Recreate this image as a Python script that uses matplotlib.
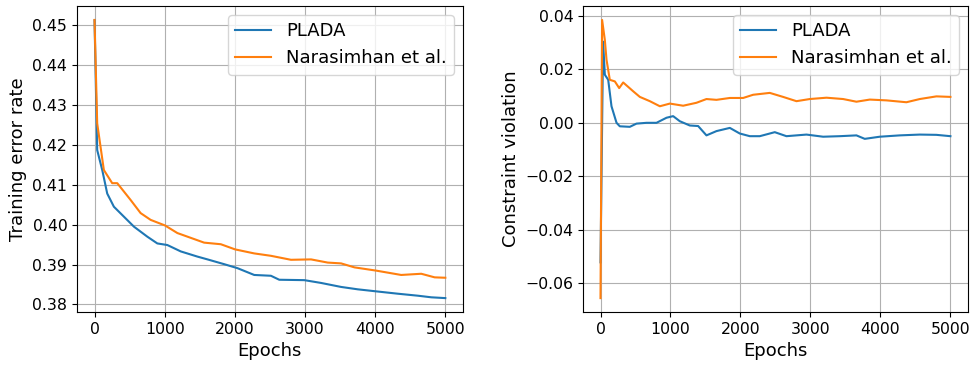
import matplotlib
matplotlib.use('Agg')
import matplotlib.pyplot as plt

# Training error rate (epoch, value)
err_epochs_plada = [0, 38, 110, 181, 276, 419, 562, 752, 895, 1038, 1229, 1467, 1610,
                    1848, 2038, 2276, 2514, 2633, 2990, 3229, 3514, 3752, 4010, 4324,
                    4610, 4800, 5000]
err_plada = [0.4512, 0.4187, 0.4137, 0.4078, 0.4045, 0.4020, 0.3995, 0.3970, 0.3953,
             0.3949, 0.3933, 0.3920, 0.3913, 0.3901, 0.3891, 0.3874, 0.3872, 0.3862,
             0.3861, 0.3854, 0.3844, 0.3838, 0.3833, 0.3827, 0.3822, 0.3818, 0.3816]

err_epochs_nara = [0, 38, 133, 252, 324, 514, 657, 800, 1005, 1181, 1324, 1562, 1800,
                   2005, 2276, 2514, 2800, 3086, 3324, 3514, 3705, 4010, 4371, 4657,
                   4848, 5000]
err_nara = [0.4513, 0.4254, 0.4137, 0.4104, 0.4104, 0.4062, 0.4029, 0.4012, 0.3998,
            0.3979, 0.3970, 0.3955, 0.3951, 0.3938, 0.3928, 0.3922, 0.3912, 0.3913,
            0.3905, 0.3903, 0.3893, 0.3885, 0.3874, 0.3877, 0.3868, 0.3867]

# Constraint violation
cv_epochs_plada = [0, 37, 62, 110, 157, 229, 276, 419, 514, 657, 800, 943, 1038, 1133,
                   1276, 1395, 1514, 1657, 1848, 1990, 2133, 2276, 2490, 2657, 2943,
                   3181, 3419, 3657, 3776, 3990, 4276, 4562, 4800, 5000]
cv_plada = [-0.0522, 0.0304, 0.0180, 0.0161, 0.0062, 0.0000, -0.0013, -0.0015, -0.0003,
            0.0000, 0.0000, 0.0019, 0.0025, 0.0006, -0.0010, -0.0012, -0.0047, -0.0031,
            -0.0019, -0.0040, -0.0050, -0.0050, -0.0035, -0.0050, -0.0044, -0.0052,
            -0.0050, -0.0047, -0.0060, -0.0052, -0.0047, -0.0044, -0.0045, -0.0050]

cv_epochs_nara = [0, 23, 62, 86, 133, 205, 267, 324, 467, 562, 705, 848, 991, 1181,
                  1371, 1514, 1657, 1848, 2038, 2181, 2419, 2609, 2800, 2990, 3229,
                  3467, 3657, 3848, 4086, 4371, 4562, 4800, 5000]
cv_nara = [-0.0656, 0.0385, 0.0310, 0.0236, 0.0161, 0.0155, 0.0130, 0.0151, 0.0118,
           0.0097, 0.0081, 0.0062, 0.0072, 0.0064, 0.0075, 0.0089, 0.0086, 0.0093,
           0.0093, 0.0105, 0.0112, 0.0097, 0.0081, 0.0089, 0.0094, 0.0089, 0.0079,
           0.0087, 0.0084, 0.0077, 0.0089, 0.0099, 0.0097]

fig = plt.figure(figsize=(9.72, 3.66), dpi=100)
ax1 = fig.add_axes([0.0792, 0.1475, 0.397, 0.836])
ax2 = fig.add_axes([0.5998, 0.1475, 0.396, 0.836])

ax1.plot(err_epochs_plada, err_plada, label='PLADA')
ax1.plot(err_epochs_nara, err_nara, label='Narasimhan et al.')
ax1.set_ylabel('Training error rate', fontsize=13)

ax2.plot(cv_epochs_plada, cv_plada, label='PLADA')
ax2.plot(cv_epochs_nara, cv_nara, label='Narasimhan et al.')
ax2.set_ylabel('Constraint violation', fontsize=13)

for ax in (ax1, ax2):
    ax.set_xlabel('Epochs', fontsize=13)
    ax.grid(True)
    ax.legend(loc='upper right', fontsize=13)
    ax.tick_params(labelsize=11.3)

fig.savefig('out.png', dpi=100)
